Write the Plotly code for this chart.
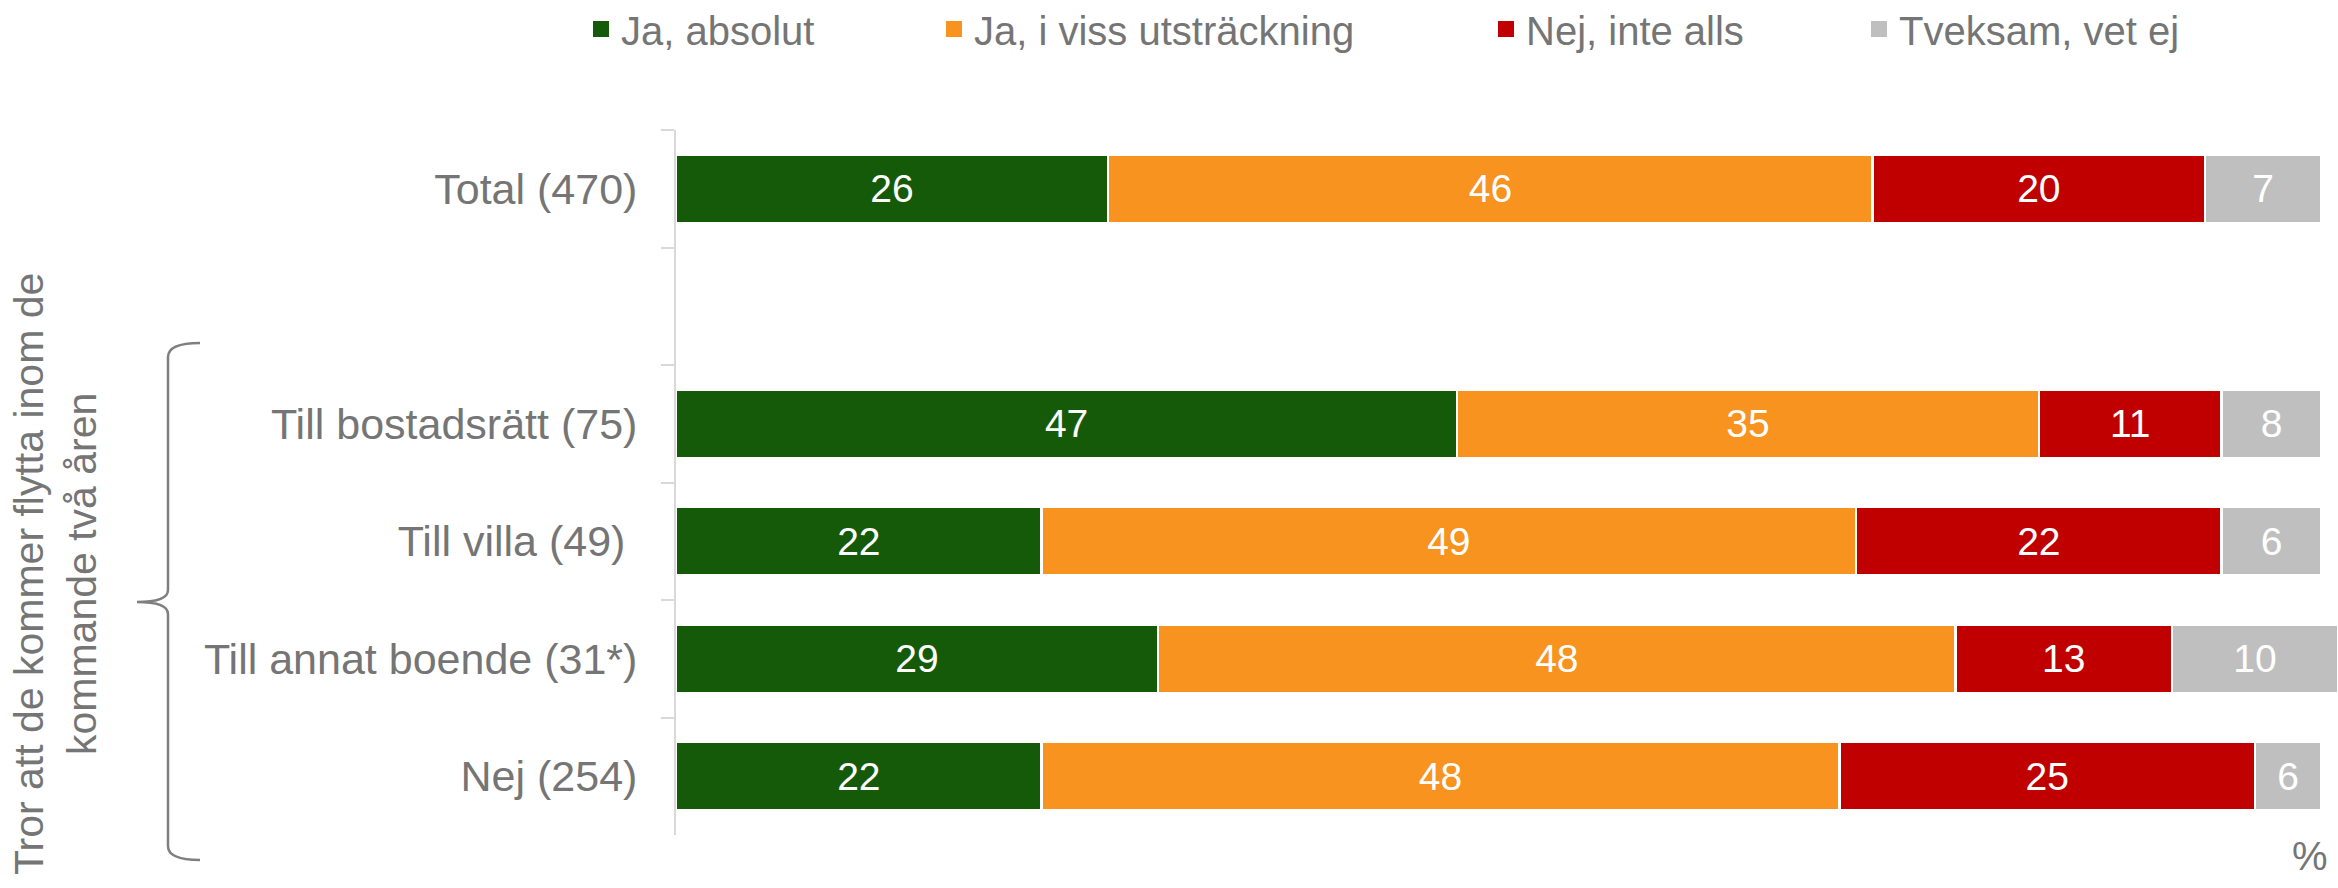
import plotly.graph_objects as go

# ---- data ----
categories = ["Total (470)", " ", "Till bostadsrätt (75)", "Till villa (49)\u00a0",
              "Till annat boende (31*)", "Nej (254)"]
series_names = ["Ja, absolut", "Ja, i viss utsträckning", "Nej, inte alls", "Tveksam, vet ej"]
ja_absolut = [26, None, 47, 22, 29, 22]
ja_viss = [46, None, 35, 49, 48, 48]
nej_inte = [20, None, 11, 22, 13, 25]
tveksam = [7, None, 6, 6, 10, 4]
label_ja_absolut = ["26", "", "47", "22", "29", "22"]
label_ja_viss = ["46", "", "35", "49", "48", "48"]
label_nej_inte = ["20", "", "11", "22", "13", "25"]
label_tveksam = ["7", "", "8", "6", "10", "6"]
colors = ["#155A08", "#F7931E", "#C00000", "#BFBFBF"]

W, H = 2338, 888
L, R, T, B = 676, 2338, 130, 835

def px(x):
    return (x - L) / (R - L)

def py(y):
    return (B - y) / (B - T)

GRAY_TXT = "#757575"
FONT = "Liberation Sans, Arial, sans-serif"

fig = go.Figure()
values = [ja_absolut, ja_viss, nej_inte, tveksam]
labels = [label_ja_absolut, label_ja_viss, label_nej_inte, label_tveksam]
legend_ids = ["legend", "legend2", "legend3", "legend4"]
for name, vals, labs, col in zip(series_names, values, labels, colors):
    fig.add_trace(go.Bar(
        y=categories, x=vals, name=name, orientation="h",
        marker=dict(color=col, line=dict(color="white", width=2.5)),
        text=labs, textposition="inside", insidetextanchor="middle",
        textfont=dict(color="white", size=39, family=FONT),
        constraintext="none", showlegend=False,
    ))
# legend entries (square swatches)
for name, col, lg in zip(series_names, colors, legend_ids):
    fig.add_trace(go.Scatter(
        x=[None], y=[None], mode="markers", name=name,
        marker=dict(symbol="square", size=16, color=col),
        legend=lg, showlegend=True,
    ))

legend_centers = [601, 954, 1506, 1879]
leg_common = dict(orientation="h", font=dict(size=40, color=GRAY_TXT, family=FONT),
                  bgcolor="rgba(0,0,0,0)", yanchor="middle", y=py(29), xanchor="left")
layout_legends = {}
for lg, cx in zip(legend_ids, legend_centers):
    layout_legends[lg] = dict(leg_common, x=px(cx - 20))

# curly brace (decoration)
bx_h, bx_v, bx_tip = 200, 168, 137
by_top, by_mid, by_bot = 343, 602, 860
def P(x, y):
    return f"{px(x):.5f},{py(y):.5f}"
path = (f"M{P(bx_h, by_top)} Q{P(bx_v, by_top)} {P(bx_v, by_top + 14)} "
        f"L{P(bx_v, by_mid - 12)} Q{P(bx_v, by_mid)} {P(bx_tip, by_mid)} "
        f"Q{P(bx_v, by_mid)} {P(bx_v, by_mid + 12)} "
        f"L{P(bx_v, by_bot - 14)} Q{P(bx_v, by_bot)} {P(bx_h, by_bot)}")

fig.update_layout(
    width=W, height=H,
    margin=dict(l=L, r=W - R, t=T, b=H - B, autoexpand=False),
    barmode="stack", bargap=0.42,
    plot_bgcolor="white", paper_bgcolor="white",
    font=dict(family=FONT, color=GRAY_TXT, size=40),
    xaxis=dict(range=[0, 100], visible=False, fixedrange=True),
    yaxis=dict(categoryorder="array", categoryarray=categories, autorange="reversed",
               showline=True, linecolor="#D9D9D9", linewidth=2,
               ticks="outside", ticklen=13, tickcolor="#D9D9D9", tickwidth=2,
               tickson="boundaries", showgrid=False, zeroline=False,
               tickfont=dict(size=43, color=GRAY_TXT, family=FONT),
               ticklabelstandoff=28, fixedrange=True),
    shapes=[dict(type="path", xref="paper", yref="paper", path=path,
                 line=dict(color="#7F7F7F", width=2.5))],
    annotations=[
        dict(text="Tror att de kommer flytta inom de<br>kommande två åren",
             xref="paper", yref="paper", x=px(55), y=py(574), textangle=-90,
             showarrow=False, xanchor="center", yanchor="middle",
             font=dict(size=41, color=GRAY_TXT, family=FONT)),
        dict(text="%", xref="paper", yref="paper", x=px(2310), y=py(856),
             showarrow=False, xanchor="center", yanchor="middle",
             font=dict(size=40, color=GRAY_TXT, family=FONT)),
    ],
    **layout_legends,
)

fig.write_html("out.html", config={"displayModeBar": False},
               post_script="document.body.style.margin='0px';document.body.style.overflow='hidden';")
